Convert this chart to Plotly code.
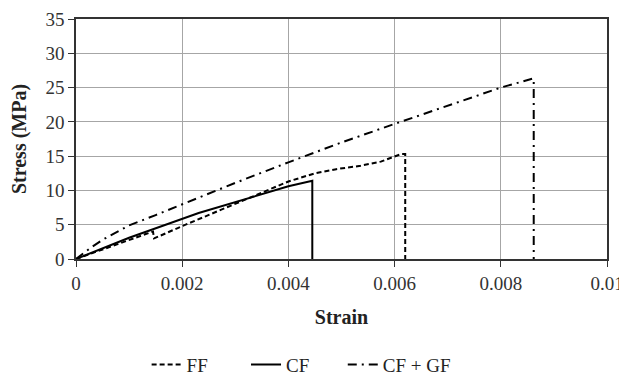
import plotly.graph_objects as go

# FF series
ff_strain = [0, 0.0007, 0.0013, 0.00145, 0.00147, 0.002, 0.003, 0.004, 0.0045, 0.0049, 0.00536, 0.00574, 0.00612, 0.0062, 0.0062]
ff_stress = [0, 2.0, 3.6, 4.0, 3.0, 4.8, 8.0, 11.3, 12.5, 13.1, 13.6, 14.2, 15.3, 15.3, 0]

# CF series
cf_strain = [0, 0.001, 0.00231, 0.00366, 0.004, 0.00445, 0.00445]
cf_stress = [0, 3.1, 6.7, 9.8, 10.6, 11.4, 0]

# CF + GF series
cfgf_strain = [0, 0.00027, 0.0005, 0.001, 0.0015, 0.002, 0.003, 0.004, 0.005, 0.006, 0.007, 0.008, 0.0086, 0.00862, 0.00862]
cfgf_stress = [0, 1.6, 2.8, 4.9, 6.4, 8.0, 11.1, 14.1, 17.0, 19.7, 22.3, 25.0, 26.3, 26.3, 0]

series_names = ["FF", "CF", "CF + GF"]
x_ticks = [0, 0.002, 0.004, 0.006, 0.008, 0.01]
x_tick_labels = ["0", "0.002", "0.004", "0.006", "0.008", "0.01"]
y_ticks = [0, 5, 10, 15, 20, 25, 30, 35]

FONT = "Liberation Serif, Times New Roman, serif"
NB = "\u00a0"
# trailing no-break spaces only widen the legend entries (spacing as in the reference)
legend_pad = [NB * 7, NB * 6, ""]

fig = go.Figure()
fig.add_trace(go.Scatter(x=ff_strain, y=ff_stress, mode="lines", name=series_names[0] + legend_pad[0],
                         line=dict(color="black", width=2, dash="5px,3px")))
fig.add_trace(go.Scatter(x=cf_strain, y=cf_stress, mode="lines", name=series_names[1] + legend_pad[1],
                         line=dict(color="black", width=2)))
fig.add_trace(go.Scatter(x=cfgf_strain, y=cfgf_stress, mode="lines", name=series_names[2] + legend_pad[2],
                         line=dict(color="black", width=2, dash="9px,5px,2px,5px")))

# the page body has an 8px margin, so the figure is sized/offset to compensate
fig.update_layout(
    width=619, height=369,
    margin=dict(l=68, r=20, t=11, b=118, autoexpand=False),
    paper_bgcolor="white", plot_bgcolor="white",
    font=dict(family=FONT, size=19, color="#222"),
    showlegend=True,
    legend=dict(orientation="h", x=0.133, xanchor="left", y=-0.44, yanchor="middle",
                font=dict(family=FONT, size=19, color="#222"),
                itemwidth=30, tracegroupgap=0, bgcolor="rgba(0,0,0,0)"),
    xaxis=dict(range=[0, 0.01], tickvals=x_ticks, ticktext=x_tick_labels,
               showgrid=True, gridcolor="#a6a6a6", gridwidth=1,
               showline=True, linecolor="#333", linewidth=1.5, mirror=True,
               ticks="outside", ticklen=6, tickcolor="#333",
               zeroline=False,
               tickfont=dict(family=FONT, size=19, color="#333"),
               title=dict(text="<b>Strain</b>", standoff=17,
                          font=dict(family=FONT, size=20, color="#222"))),
    yaxis=dict(range=[0, 35], tickvals=y_ticks,
               showgrid=True, gridcolor="#a6a6a6", gridwidth=1,
               showline=True, linecolor="#333", linewidth=1.5, mirror=True,
               ticks="outside", ticklen=6, tickcolor="#333",
               zeroline=False,
               tickfont=dict(family=FONT, size=19, color="#333"),
               title=dict(text="<b>Stress (MPa)</b>", standoff=13,
                          font=dict(family=FONT, size=20, color="#222"))),
)

fig.write_html("out.html")
